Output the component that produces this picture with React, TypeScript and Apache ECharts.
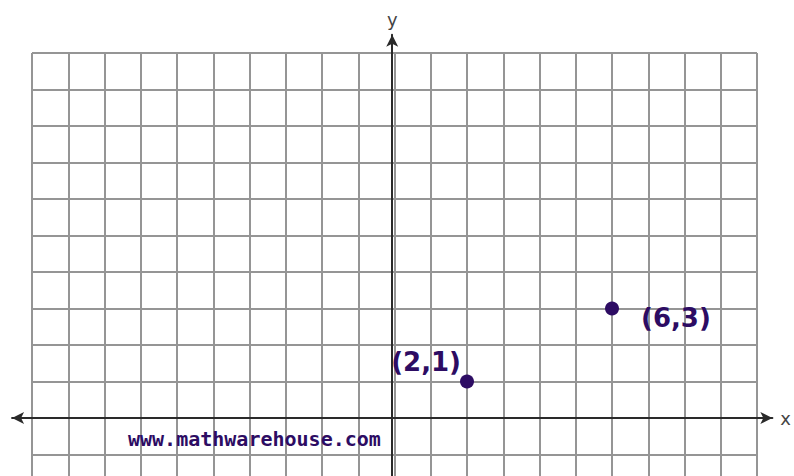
import React, { useEffect, useRef } from "react";
import * as echarts from "echarts";

const pointX = [2, 6];
const pointY = [1, 3];
const pointLabels = ["(2,1)", "(6,3)"];
const labelPositions = ["left", "right"];
const labelOffsets = [[6, -20], [17, 9]];
const xRange = [-10, 10];
const yRange = [-2, 10];
const watermark = "www.mathwarehouse.com";

const PURPLE = "#2d0c63";
const GRIDC = "#959595";
const AXISC = "#2a2a2a";

export default function App() {
  const ref = useRef<HTMLDivElement>(null);
  useEffect(() => {
    if (!ref.current) return;
    const chart = echarts.init(ref.current, null, { renderer: "svg" });
    const data = pointX.map((x, i) => ({
      value: [x, pointY[i]],
      name: pointLabels[i],
      label: {
        show: true,
        position: labelPositions[i],
        offset: labelOffsets[i],
        formatter: "{b}",
      },
    }));
    chart.setOption({
      animation: false,
      backgroundColor: "#ffffff",
      title: {
        text: watermark,
        left: 128,
        top: 429,
        padding: 0,
        textStyle: {
          fontFamily: "DejaVu Sans Mono",
          fontWeight: "bold",
          fontSize: 20,
          color: PURPLE,
        },
      },
      grid: [
        { left: 32, width: 725, top: 53, height: 438, containLabel: false },
        { left: 12.06, width: 764.9, top: 34.75, height: 456.25, containLabel: false },
      ],
      xAxis: [
        {
          gridIndex: 0,
          type: "value",
          min: xRange[0],
          max: xRange[1],
          interval: 1,
          axisLine: { show: false },
          axisTick: { show: false },
          axisLabel: { show: false },
          splitLine: { show: true, lineStyle: { color: GRIDC, width: 2 } },
        },
        {
          gridIndex: 1,
          type: "value",
          min: -10.55,
          max: 10.55,
          axisLine: {
            show: true,
            onZero: true,
            symbol: ["arrow", "arrow"],
            symbolSize: [9, 12],
            lineStyle: { color: AXISC, width: 2 },
          },
          axisTick: { show: false },
          axisLabel: { show: false },
          splitLine: { show: false },
          name: "x",
          nameLocation: "end",
          nameGap: 8,
          nameTextStyle: { fontSize: 18, color: "#444", fontFamily: "DejaVu Sans" },
        },
      ],
      yAxis: [
        {
          gridIndex: 0,
          type: "value",
          min: yRange[0],
          max: yRange[1],
          interval: 1,
          axisLine: { show: false },
          axisTick: { show: false },
          axisLabel: { show: false },
          splitLine: { show: true, lineStyle: { color: GRIDC, width: 2 } },
        },
        {
          gridIndex: 1,
          type: "value",
          min: -2,
          max: 10.5,
          axisLine: {
            show: true,
            onZero: true,
            symbol: ["none", "arrow"],
            symbolSize: [9, 12],
            lineStyle: { color: AXISC, width: 2 },
          },
          axisTick: { show: false },
          axisLabel: { show: false },
          splitLine: { show: false },
          name: "y",
          nameLocation: "end",
          nameGap: 6,
          nameTextStyle: { fontSize: 18, color: "#444", fontFamily: "DejaVu Sans" },
        },
      ],
      series: [
        {
          type: "scatter",
          xAxisIndex: 0,
          yAxisIndex: 0,
          symbol: "circle",
          symbolSize: 14,
          itemStyle: { color: PURPLE, opacity: 1 },
          clip: false,
          label: {
            color: PURPLE,
            fontFamily: "DejaVu Sans",
            fontWeight: "bold",
            fontSize: 26,
          },
          data,
        },
      ],
    });
    return () => chart.dispose();
  }, []);
  return (
    <div
      style={{
        position: "absolute",
        left: 0,
        top: 0,
        width: 794,
        height: 476,
        overflow: "hidden",
        background: "#fff",
      }}
    >
      <div ref={ref} style={{ width: 794, height: 500 }} />
    </div>
  );
}
